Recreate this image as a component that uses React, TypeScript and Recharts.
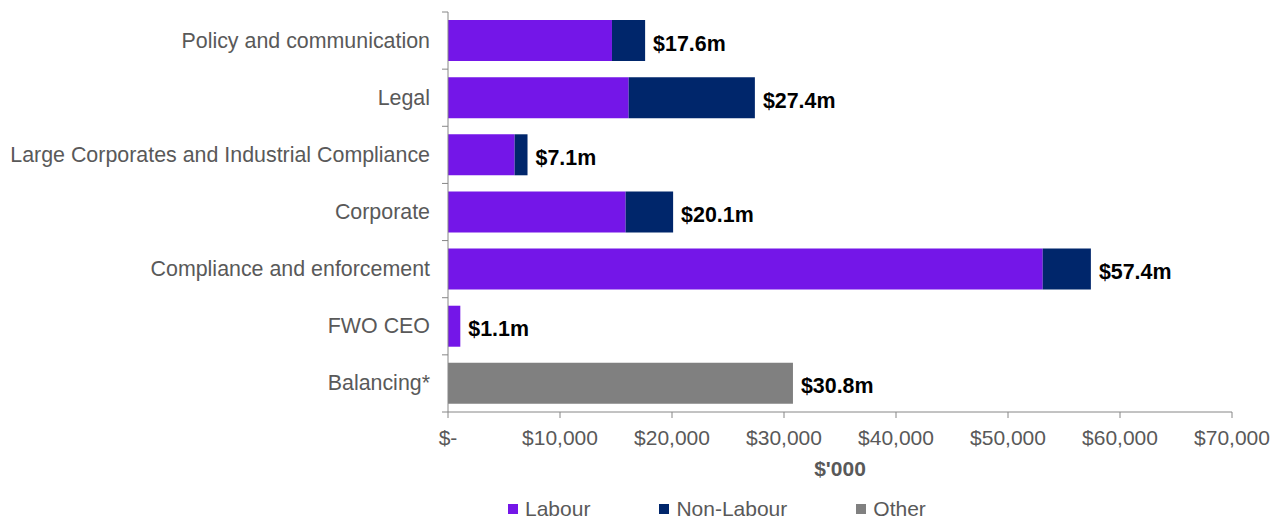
import React from 'react';
import { BarChart, Bar, XAxis, YAxis, Legend, LabelList } from 'recharts';

const categories = [
  'Policy and communication',
  'Legal',
  'Large Corporates and Industrial Compliance',
  'Corporate',
  'Compliance and enforcement',
  'FWO CEO',
  'Balancing*',
];
const labour = [14640, 16130, 5950, 15860, 53100, 1100, 0];
const nonLabour = [2960, 11270, 1150, 4240, 4300, 0, 0];
const other = [0, 0, 0, 0, 0, 0, 30800];
const xTicks = [0, 10000, 20000, 30000, 40000, 50000, 60000, 70000];

const seriesKeys = ['labour', 'nonLabour', 'other'];
const seriesNames = ['Labour', 'Non-Labour', 'Other'];
const seriesColors = ['#7416e8', '#00266b', '#808080'];

const FONT = '"Liberation Sans", Arial, sans-serif';
const GREY_TEXT = '#595959';
const AXIS_GREY = '#868686';

const W = 1280;
const H = 518;
const PLOT_TOP = 12;
const PLOT_H = 400;
const LEGEND_H = 32;
const BAND = PLOT_H / categories.length;

const data = categories.map((name, i) => ({
  name,
  labour: labour[i],
  nonLabour: nonLabour[i],
  other: other[i],
  total: labour[i] + nonLabour[i] + other[i],
}));

// which series ends each row, so the total label goes after it
const lastSeriesByName: Record<string, number> = {};
const totalByName: Record<string, number> = {};
data.forEach((d: any) => {
  let last = 0;
  seriesKeys.forEach((k, s) => {
    if (d[k] > 0) last = s;
  });
  lastSeriesByName[d.name] = last;
  totalByName[d.name] = d.total;
});

function formatDollars(v: number) {
  if (v === 0) return '$-';
  return '$' + v.toLocaleString('en-US');
}

function CategoryTick(props: any) {
  const { x, y, payload, index } = props;
  const axisX = x + 18;
  return (
    <g>
      <text
        x={x}
        y={y}
        textAnchor="end"
        dominantBaseline="central"
        fill={GREY_TEXT}
        fontSize={21.4}
        fontFamily={FONT}
      >
        {payload.value}
      </text>
      {index === 0 && (
        <line x1={axisX - 6} x2={axisX} y1={y - BAND / 2} y2={y - BAND / 2} stroke={AXIS_GREY} />
      )}
      <line x1={axisX - 6} x2={axisX} y1={y + BAND / 2} y2={y + BAND / 2} stroke={AXIS_GREY} />
    </g>
  );
}

function makeTotalLabel(seriesIdx: number) {
  return function TotalLabel(props: any) {
    const { x, y, width, height, value } = props;
    if (lastSeriesByName[value] !== seriesIdx) return null;
    const total = totalByName[value];
    return (
      <text
        x={x + width + 8}
        y={y + height / 2 + 3}
        dominantBaseline="central"
        fill="#000"
        fontSize={21.4}
        fontWeight="bold"
        fontFamily={FONT}
      >
        {'$' + (total / 1000).toFixed(1) + 'm'}
      </text>
    );
  };
}

function AxisTitle(props: any) {
  const { viewBox } = props;
  return (
    <text
      x={viewBox.x + viewBox.width / 2}
      y={viewBox.y + 56}
      textAnchor="middle"
      dominantBaseline="central"
      fill={GREY_TEXT}
      fontSize={21}
      fontWeight="bold"
      fontFamily={FONT}
    >
      $'000
    </text>
  );
}

function LegendContent() {
  return (
    <div
      style={{
        height: LEGEND_H,
        boxSizing: 'border-box',
        paddingTop: 14,
        paddingLeft: 508,
        display: 'flex',
        alignItems: 'flex-start',
        fontFamily: FONT,
        fontSize: 21,
        lineHeight: '18px',
        color: GREY_TEXT,
      }}
    >
      {seriesNames.map((n, i) => (
        <div key={n} style={{ display: 'flex', alignItems: 'center', marginRight: 69, height: 18 }}>
          <span style={{ width: 10, height: 10, background: seriesColors[i], marginRight: 7 }} />
          <span>{n}</span>
        </div>
      ))}
    </div>
  );
}

export default function App() {
  return (
    <div style={{ position: 'absolute', left: 0, top: 0, width: W, height: H, background: '#fff' }}>
      <BarChart
        width={W}
        height={H}
        data={data}
        layout="vertical"
        barSize={41}
        margin={{ top: PLOT_TOP, right: 48, bottom: 0, left: 0 }}
      >
        <XAxis
          type="number"
          domain={[0, 70000]}
          ticks={xTicks}
          tickFormatter={formatDollars}
          height={H - PLOT_TOP - PLOT_H - LEGEND_H}
          tick={{ fill: GREY_TEXT, fontSize: 21, fontFamily: FONT }}
          tickSize={6}
          tickMargin={12}
          axisLine={{ stroke: AXIS_GREY }}
          tickLine={{ stroke: AXIS_GREY }}
          interval={0}
          label={<AxisTitle />}
        />
        <YAxis
          type="category"
          dataKey="name"
          width={448}
          axisLine={{ stroke: AXIS_GREY }}
          tickLine={false}
          tickSize={0}
          tickMargin={18}
          tick={<CategoryTick />}
          interval={0}
        />
        <Legend
          verticalAlign="bottom"
          content={<LegendContent />}
          wrapperStyle={{ left: 0, width: W, height: LEGEND_H }}
        />
        {seriesKeys.map((k, s) => (
          <Bar
            key={k}
            dataKey={k}
            name={seriesNames[s]}
            stackId="a"
            fill={seriesColors[s]}
            isAnimationActive={false}
          >
            <LabelList dataKey="name" content={makeTotalLabel(s)} />
          </Bar>
        ))}
      </BarChart>
    </div>
  );
}
